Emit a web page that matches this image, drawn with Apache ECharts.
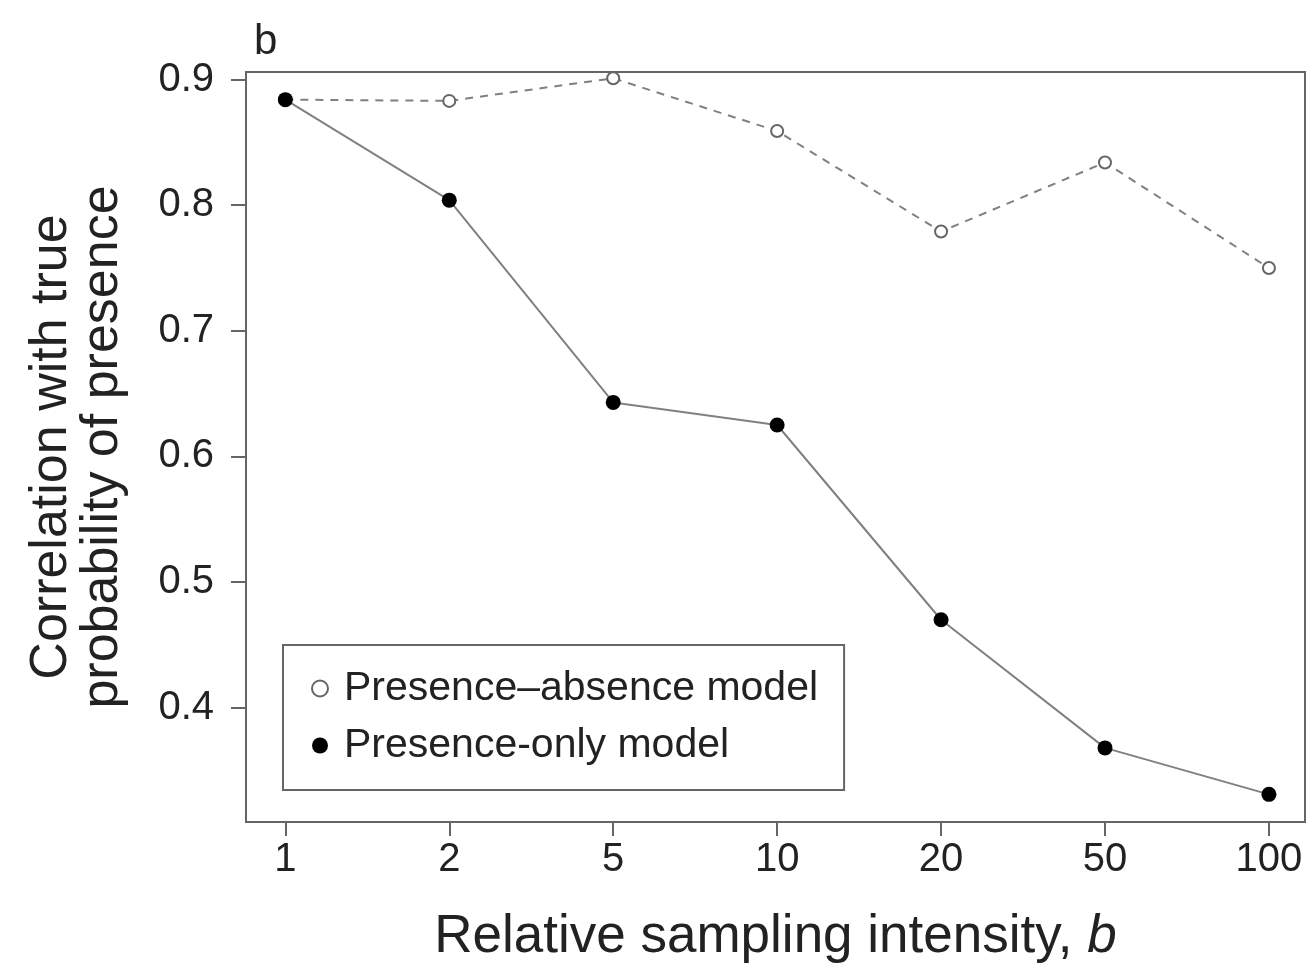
<!DOCTYPE html>
<html>
<head>
<meta charset="utf-8">
<script src="https://cdn.jsdelivr.net/npm/echarts@6/dist/echarts.min.js"></script>
<style>
  html, body { margin: 0; padding: 0; background: #fff; }
  #main { width: 1307px; height: 964px; }
</style>
</head>
<body>
<div id="main"></div>
<script>
// sampling intensity categories (drawn equally spaced)
const intensities = ['1', '2', '5', '10', '20', '50', '100']
const presenceAbsence = [0.884, 0.883, 0.901, 0.859, 0.779, 0.834, 0.750]
const presenceOnly = [0.884, 0.804, 0.643, 0.625, 0.470, 0.368, 0.331]
const yTicks = [0.4, 0.5, 0.6, 0.7, 0.8, 0.9]

const font = 'Liberation Sans, Arial, sans-serif'
const chart = echarts.init(document.getElementById('main'))

const pairs = arr => arr.map((v, i) => [i, v])

chart.setOption({
  animation: false,
  textStyle: { fontFamily: font, color: '#222' },
  title: {
    text: 'b',
    left: 249,
    top: 16,
    textStyle: { fontSize: 42, fontWeight: 'normal', color: '#222', fontFamily: font }
  },
  grid: {
    left: 246,
    right: 2,
    top: 72,
    bottom: 142,
    show: true,
    borderColor: '#666',
    borderWidth: 2,
    containLabel: false,
    outerBoundsMode: 'none'
  },
  legend: {
    orient: 'vertical',
    left: 283,
    top: 645,
    padding: [23, 26, 24, 28],
    itemGap: 16,
    itemWidth: 16,
    itemHeight: 16,
    borderColor: '#666',
    borderWidth: 2,
    backgroundColor: '#fff',
    textStyle: { fontSize: 41, color: '#222', fontFamily: font, padding: [0, 0, 0, 11] },
    data: [
      { name: 'Presence\u2013absence model', icon: 'circle' },
      { name: 'Presence-only model', icon: 'circle' }
    ]
  },
  xAxis: {
    type: 'value',
    min: -0.24,
    max: 6.22,
    name: '{n|Relative sampling intensity, }{i|b}',
    nameLocation: 'middle',
    nameGap: 89,
    nameTextStyle: {
      rich: {
        n: { fontSize: 53, color: '#222', fontFamily: font },
        i: { fontSize: 53, color: '#222', fontFamily: font, fontStyle: 'italic' }
      }
    },
    axisLine: { show: true, onZero: false, lineStyle: { color: '#666', width: 2 } },
    axisTick: {
      show: true, length: 14, lineStyle: { color: '#666', width: 2 },
      customValues: intensities.map((_, i) => i)
    },
    axisLabel: {
      fontSize: 40, color: '#222', margin: 18,
      customValues: intensities.map((_, i) => i),
      formatter: v => intensities[Math.round(v)]
    },
    splitLine: { show: false }
  },
  yAxis: {
    type: 'value',
    min: 0.309,
    max: 0.906,
    name: 'Correlation with true\nprobability of presence',
    nameLocation: 'middle',
    nameGap: 118,
    nameTextStyle: { fontSize: 52, lineHeight: 51, color: '#222', fontFamily: font },
    axisLine: { show: true, onZero: false, lineStyle: { color: '#666', width: 2 } },
    axisTick: {
      show: true, length: 15, lineStyle: { color: '#666', width: 2 },
      customValues: yTicks
    },
    axisLabel: {
      fontSize: 40, color: '#222', margin: 32,
      customValues: yTicks,
      formatter: v => v.toFixed(1)
    },
    splitLine: { show: false }
  },
  series: [
    {
      name: 'Presence\u2013absence model',
      type: 'line',
      data: pairs(presenceAbsence),
      symbol: 'circle',
      symbolSize: 12,
      lineStyle: { color: '#808080', width: 2, type: [8, 7] },
      itemStyle: { color: '#fff', borderColor: '#666', borderWidth: 2 },
      z: 2
    },
    {
      name: 'Presence-only model',
      type: 'line',
      data: pairs(presenceOnly),
      symbol: 'circle',
      symbolSize: 15,
      lineStyle: { color: '#808080', width: 2 },
      itemStyle: { color: '#000', borderColor: '#000', borderWidth: 0 },
      z: 3
    }
  ]
})
</script>
</body>
</html>
